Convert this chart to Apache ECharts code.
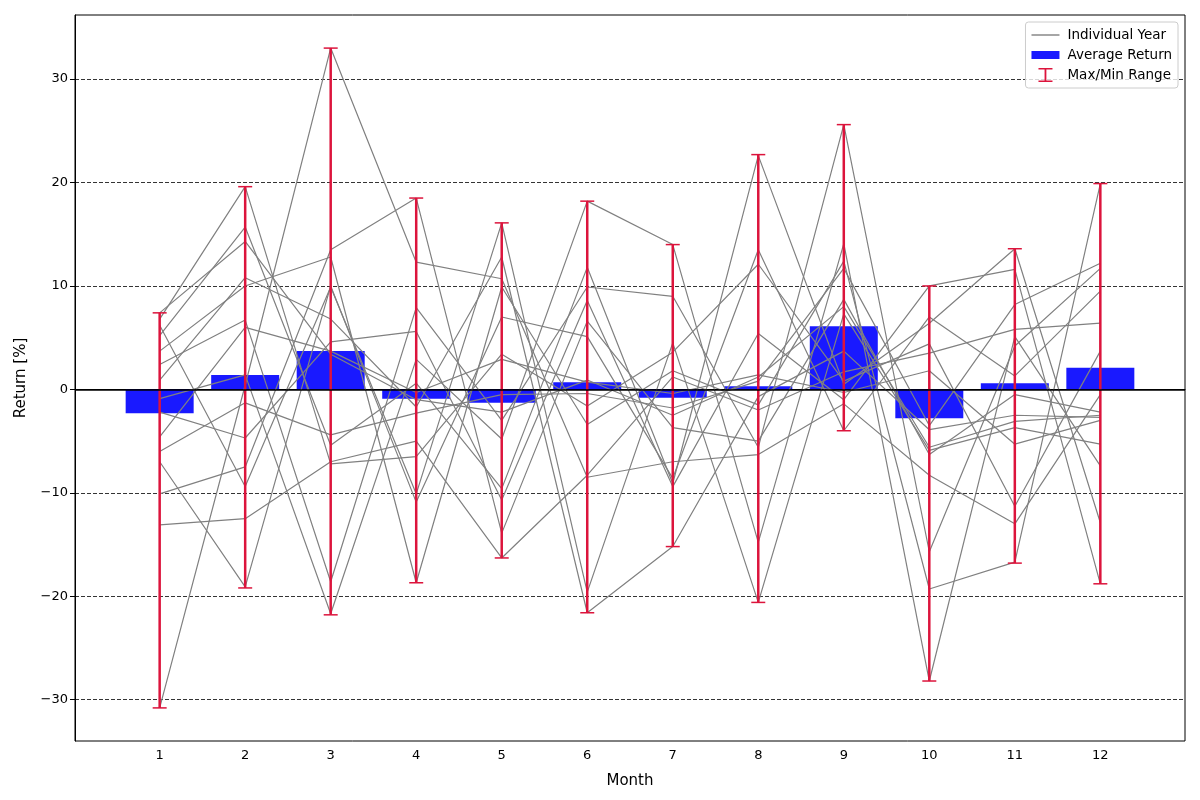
<!DOCTYPE html>
<html style="height: 100%">
  <head>
    <meta charset="utf-8" />
    <title>Monthly Returns</title>
    <script src="https://cdn.jsdelivr.net/npm/echarts@6/dist/echarts.min.js"></script>
  </head>
  <body style="height: 100%; margin: 0; background: #fff">
    <div id="main" style="width: 1200px; height: 800px"></div>
    <script type="text/javascript">
      // months on the x axis
      var months = [1, 2, 3, 4, 5, 6, 7, 8, 9, 10, 11, 12];
      var yTicks = [-30, -20, -10, 0, 10, 20, 30];

      // bar heights and error bar ends
      var avgReturn = [-2.3, 1.4, 3.7, -0.9, -1.3, 0.7, -0.8, 0.3, 6.1, -2.8, 0.6, 2.1];
      var maxReturn = [7.4, 19.6, 33.0, 18.5, 16.1, 18.2, 14.0, 22.7, 25.6, 10.0, 13.6, 19.9];
      var minReturn = [-30.8, -19.2, -21.8, -18.7, -16.3, -21.6, -15.2, -20.6, -4.0, -28.2, -16.8, -18.8];

      // one row per year (grey lines)
      var individualYears = [
        [7.4, 14.3, 3.4, -1.0, -2.2, 0.9, -2.5, 1.2, 8.0, -5.6, -3.1, -2.5],
        [6.8, 19.6, -7.2, -6.5, 3.4, -1.6, 3.6, 12.1, 0.8, 4.4, -11.3, 3.7],
        [6.2, -9.4, 9.9, -10.1, 16.1, -19.6, 4.5, -20.6, 7.3, -5.9, -3.7, -5.3],
        [5.2, 15.7, -5.4, 0.6, -9.6, 11.8, -9.1, 22.6, 0.5, 6.4, 13.6, -12.9],
        [3.7, 10.0, 12.8, -18.7, 9.9, -3.4, 1.8, -1.5, 12.4, -19.3, -16.7, 19.9],
        [2.4, 6.7, -18.6, 7.9, -3.0, 9.9, 9.0, -5.6, 25.6, -15.7, 4.2, 11.7],
        [0.9, 10.8, 6.8, -1.7, 12.8, -21.6, -15.2, -0.7, 3.7, -3.9, -2.5, -2.7],
        [-0.9, 1.4, -21.7, 2.9, -4.8, 18.2, 14.0, -14.8, 14.1, -28.2, 5.1, -7.4],
        [-2.2, -4.7, 4.6, 5.6, -10.7, 8.6, -9.4, 5.4, -1.0, 10.0, 11.6, -18.8],
        [-4.6, 6.0, 3.7, -0.3, 2.9, 0.7, -0.4, 1.4, -0.3, 1.8, -5.3, -3.0],
        [-6.0, -1.3, -4.4, -2.3, -0.5, -0.4, -1.8, 0.8, 11.7, -3.5, 8.2, 12.2],
        [-7.0, -19.1, 10.0, -10.9, 7.0, 5.1, -8.6, 13.5, -4.0, 7.0, 1.3, 9.5],
        [-10.1, -7.5, 13.5, 18.5, -13.9, 6.6, -3.7, -5.0, 8.7, -6.3, -0.5, -2.2],
        [-13.1, -12.5, -7.0, -5.0, -16.3, -8.3, 1.2, -2.0, 1.7, 3.5, 5.8, 6.4],
        [-30.8, 0.4, 33.0, 12.3, 10.7, -8.5, -7.0, -6.3, -1.4, -8.3, -13.0, -0.5]
      ];

      var FONT = "DejaVu Sans";
      var RED = "#dc143c";
      var myChart = echarts.init(document.getElementById("main"));

      function minus(v) {
        return String(v).replace("-", "\u2212");
      }

      var series = [];

      series.push({
        name: "Average Return",
        type: "bar",
        barWidth: 68,
        data: months.map(function (m, i) {
          return [m, avgReturn[i]];
        }),
        itemStyle: { color: "rgba(0,0,255,0.9)" },
        z: 1,
        markLine: {
          silent: true,
          symbol: "none",
          label: { show: false },
          lineStyle: { color: "#000", width: 1.6, type: "solid" },
          data: [{ yAxis: 0 }],
          z: 5
        }
      });

      individualYears.forEach(function (row) {
        series.push({
          name: "Individual Year",
          type: "line",
          symbol: "none",
          data: months.map(function (m, i) {
            return [m, row[i]];
          }),
          lineStyle: { color: "#808080", width: 1.2 },
          itemStyle: { color: "#808080" },
          z: 3
        });
      });

      series.push({
        name: "Max/Min Range",
        type: "custom",
        data: months.map(function (m, i) {
          return [m, minReturn[i], maxReturn[i]];
        }),
        encode: { x: 0, y: [1, 2] },
        z: 4,
        renderItem: function (params, api) {
          var x = api.value(0);
          var lo = api.coord([x, api.value(1)]);
          var hi = api.coord([x, api.value(2)]);
          var cap = 7;
          var capStyle = { stroke: RED, lineWidth: 1.5 };
          return {
            type: "group",
            children: [
              { type: "line", shape: { x1: hi[0], y1: hi[1], x2: lo[0], y2: lo[1] }, style: { stroke: RED, lineWidth: 2.5 } },
              { type: "line", shape: { x1: hi[0] - cap, y1: hi[1], x2: hi[0] + cap, y2: hi[1] }, style: capStyle },
              { type: "line", shape: { x1: lo[0] - cap, y1: lo[1], x2: lo[0] + cap, y2: lo[1] }, style: capStyle }
            ]
          };
        }
      });

      var option = {
        animation: false,
        textStyle: { fontFamily: FONT },
        grid: {
          left: 75,
          right: 15,
          top: 15,
          bottom: 59,
          show: true,
          borderColor: "#000",
          borderWidth: 1
        },
        legend: {
          orient: "vertical",
          right: 22,
          top: 22,
          padding: [6, 6, 6, 6],
          itemGap: 6,
          itemWidth: 28,
          itemHeight: 14,
          backgroundColor: "rgba(255,255,255,0.8)",
          borderColor: "#cccccc",
          borderWidth: 1,
          borderRadius: 3,
          textStyle: { fontFamily: FONT, fontSize: 13.5, color: "#000", padding: [0, 0, 0, 3] },
          data: [
            { name: "Individual Year", icon: "path://M0,6.3H28V7.7H0Z", itemStyle: { color: "#808080" } },
            { name: "Average Return", icon: "path://M0,3H28V11H0Z", itemStyle: { color: "rgba(0,0,255,0.9)" } },
            {
              name: "Max/Min Range",
              icon: "path://M7,0H21V1.5H14.9V12.5H21V14H7V12.5H13.1V1.5H7Z",
              itemStyle: { color: RED }
            }
          ]
        },
        xAxis: {
          type: "value",
          min: 0.01,
          max: 12.99,
          name: "Month",
          nameLocation: "middle",
          nameGap: 33,
          nameTextStyle: { fontFamily: FONT, fontSize: 15, color: "#000" },
          axisLine: { lineStyle: { color: "#000" } },
          axisTick: { show: true, customValues: months, length: 5, lineStyle: { color: "#000" } },
          axisLabel: { customValues: months, fontFamily: FONT, fontSize: 13, color: "#000", margin: 8 },
          splitLine: { show: false }
        },
        yAxis: {
          type: "value",
          min: -34,
          max: 36.2,
          name: "Return [%]",
          nameLocation: "middle",
          nameGap: 46,
          nameRotate: 90,
          nameTextStyle: { fontFamily: FONT, fontSize: 15, color: "#000" },
          axisLine: { show: true, lineStyle: { color: "#000" } },
          axisTick: { show: true, customValues: yTicks, length: 5, lineStyle: { color: "#000" } },
          axisLabel: {
            customValues: yTicks,
            fontFamily: FONT,
            fontSize: 13,
            color: "#000",
            margin: 7,
            formatter: minus
          },
          splitLine: { show: true, lineStyle: { color: "#000", width: 0.8, type: [4, 2] } }
        },
        series: series
      };

      myChart.setOption(option);
    </script>
  </body>
</html>
